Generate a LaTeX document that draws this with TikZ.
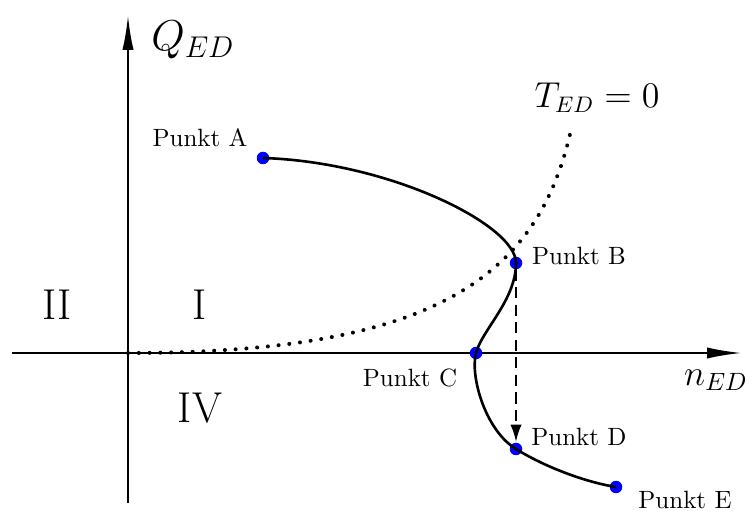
\documentclass[tikz,border=0pt]{standalone}
\usetikzlibrary{arrows.meta}
\begin{document}
\begin{tikzpicture}[x=0.4pt, y=-0.4pt,
        punkt/.style={circle, fill=blue, inner sep=0pt, minimum size=5pt},
        axis/.style={line width=1pt, -{Latex[length=14pt,width=4.5pt]}},
        kurve/.style={line width=1.05pt}]

            \useasboundingbox (0,0) rectangle (753,511);

            % Axes
            \coordinate (yStart) at (128,503);
            \coordinate (yEnd) at (128,15);
            \coordinate (xStart) at (12,353);
            \coordinate (xEnd) at (742,353);
            \draw[axis] (xStart) -- (xEnd);
            \draw[axis] (yStart) -- (yEnd);
            \node at (193,40) {\LARGE $Q_{ED}$};
            \node at (716,380) {\Large $n_{ED}$};

            % Quadrants
            \node at (57,305) {\LARGE II};
            \node at (200,305) {\LARGE I};
            \node at (200,408) {\LARGE IV};

            % Curve T_ED = 0
            \coordinate (origin) at (128,353);
            \coordinate (tEnd) at (572,125);
            \draw[line width=1.6pt, line cap=round, dash pattern=on 0.01pt off 4.3pt]
                (origin) .. controls (430,353) and (540,280) .. (tEnd);
            \node at (597,98) {\fontsize{13.5}{16}\selectfont $T_{ED}=0$};

            % Operating points
            \node[punkt] (pA) at (263,158) {};
            \node[punkt] (pB) at (516,263) {};
            \node[punkt] (pC) at (476,353) {};
            \node[punkt] (pD) at (516,449) {};
            \node[punkt] (pE) at (616,487) {};
            \node at (200,138) {Punkt A};
            \node at (579,256) {Punkt B};
            \node at (410,378) {Punkt C};
            \node at (579,437) {Punkt D};
            \node at (685,500) {Punkt E};

            % Characteristic curve
            \draw[kurve] (pA.center) .. controls (390,162) and (516,225) .. (pB.center)
                .. controls (516,300) and (482,330) .. (pC.center)
                .. controls (470,376) and (485,430) .. (pD.center)
                .. controls (545,467) and (585,482) .. (pE.center);

            % Jump from B to D
            \draw[line width=1pt, dash pattern=on 4.5pt off 2.5pt, -{Latex[length=7pt,width=4.5pt]}]
                (pB) -- (pD);

        \end{tikzpicture}
\end{document}
